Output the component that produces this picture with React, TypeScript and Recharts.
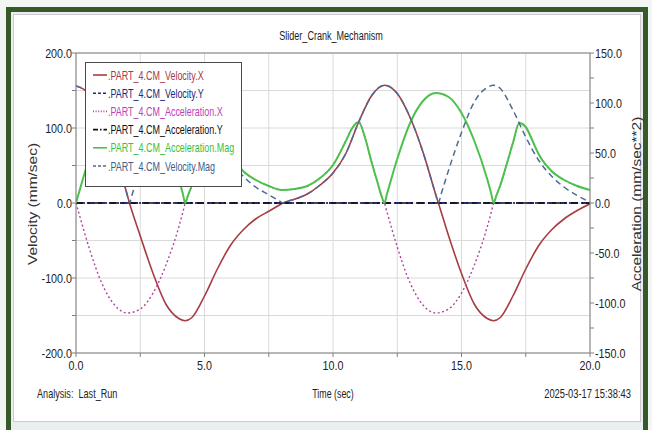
import React from 'react';
import { LineChart, Line, XAxis, YAxis, CartesianGrid, Legend, ReferenceLine } from 'recharts';

const FONT = "'Liberation Sans', Arial, sans-serif";

// ---- data ----
const seriesNames = [
  '.PART_4.CM_Velocity.X',
  '.PART_4.CM_Velocity.Y',
  '.PART_4.CM_Acceleration.X',
  '.PART_4.CM_Acceleration.Y',
  '.PART_4.CM_Acceleration.Mag',
  '.PART_4.CM_Velocity.Mag',
];

const velTimes = [0, 0.5, 1, 1.5, 2, 2.08, 2.18, 2.5, 3, 3.5, 4, 4.25, 4.5, 5, 5.5, 6, 6.5, 7, 7.5, 7.9, 8.05, 8.2, 8.5, 9, 9.5, 10, 10.5, 11, 11.5, 12, 12.5, 13, 13.5, 14, 14.1, 14.2, 14.5, 15, 15.5, 16, 16.25, 16.5, 17, 17.5, 18, 18.5, 19, 19.5, 20];
const velX = [156, 146, 114, 68, 10, 0, -11, -44, -94, -135, -154, -157, -153, -124, -88, -57, -36, -21, -11, -3, 0, 2, 5, 12, 24, 40, 66, 108, 143, 157, 146, 114, 68, 11, 0, -11, -44, -94, -135, -154, -157, -153, -124, -88, -57, -36, -21, -10, -1];
const velMag = [156, 146, 114, 68, 10, 0, 11, 44, 94, 135, 154, 157, 153, 124, 88, 57, 36, 21, 11, 3, 0, 2, 5, 12, 24, 40, 66, 108, 143, 157, 146, 114, 68, 11, 0, 11, 44, 94, 135, 154, 157, 153, 124, 88, 57, 36, 21, 10, 1];

const zeroTimes = [0, 20];
const velY = [0, 0];
const accY = [0, 0];

const accTimes = [0, 0.1, 0.5, 1, 1.5, 2, 2.5, 3, 3.5, 4, 4.15, 4.25, 4.35, 4.5, 4.75, 5, 5.25, 5.5, 5.75, 6, 6.5, 7, 7.5, 8, 8.5, 9, 9.5, 10, 10.5, 10.75, 11, 11.25, 11.5, 11.75, 11.9, 12, 12.1, 12.5, 13, 13.5, 14, 14.5, 15, 15.5, 16, 16.15, 16.25, 16.35, 16.5, 16.75, 17, 17.25, 17.5, 17.75, 18, 18.5, 19, 19.5, 20];
const accX = [0, -9, -44, -80, -102, -110, -106, -90, -62, -24, -10, 0, 7, 17, 38, 60, 80, 76, 63, 49, 32, 23, 17, 13, 14, 17, 25, 38, 62, 75, 81, 65, 41, 19, 6, 0, -9, -44, -80, -102, -110, -106, -90, -62, -24, -10, 0, 7, 17, 38, 60, 80, 76, 63, 49, 32, 23, 17, 13];
const accMag = [0, 9, 44, 80, 102, 110, 106, 90, 62, 24, 10, 0, 7, 17, 38, 60, 80, 76, 63, 49, 32, 23, 17, 13, 14, 17, 25, 38, 62, 75, 81, 65, 41, 19, 6, 0, 9, 44, 80, 102, 110, 106, 90, 62, 24, 10, 0, 7, 17, 38, 60, 80, 76, 63, 49, 32, 23, 17, 13];

const xTicks = [0, 2.5, 5, 7.5, 10, 12.5, 15, 17.5, 20];
const leftTicks = [-200, -150, -100, -50, 0, 50, 100, 150, 200];
const rightTicks = [-150, -125, -100, -75, -50, -25, 0, 25, 50, 75, 100, 125, 150];

const toData = (ts: number[], vs: number[]) => ts.map((t, i) => ({ t, v: vs[i] }));

const C = {
  velX: '#a83c42',
  velY: '#22287a',
  accX: '#b0459f',
  accY: '#111111',
  accMag: '#4cc24c',
  velMag: '#4d6b96',
};

const legendStyles = [
  { color: C.velX, text: '#a83c42', dash: undefined as string | undefined },
  { color: C.velY, text: '#22287a', dash: '3 2' },
  { color: C.accX, text: '#c040b8', dash: '1 1.6' },
  { color: C.accY, text: '#111111', dash: '5 2 1.5 2' },
  { color: C.accMag, text: '#3cc03c', dash: undefined },
  { color: C.velMag, text: '#3d5d88', dash: '3 2' },
];

const LeftTick = (props: any) => {
  const { x, y, payload } = props;
  if (payload.value % 100 !== 0) return null;
  return (
    <g transform={`translate(${x},${y}) scale(0.86,1)`}>
      <text x={0} y={0} dy={4.5} textAnchor="end" fontSize={12.5} fontFamily={FONT} fill="#222">
        {payload.value.toFixed(1)}
      </text>
    </g>
  );
};

const RightTick = (props: any) => {
  const { x, y, payload } = props;
  if (payload.value % 50 !== 0) return null;
  return (
    <g transform={`translate(${x},${y}) scale(0.86,1)`}>
      <text x={0} y={0} dy={4.5} textAnchor="start" fontSize={12.5} fontFamily={FONT} fill="#222">
        {payload.value.toFixed(1)}
      </text>
    </g>
  );
};

const BottomTick = (props: any) => {
  const { x, y, payload } = props;
  if (payload.value % 5 !== 0) return null;
  return (
    <g transform={`translate(${x},${y}) scale(0.86,1)`}>
      <text x={0} y={0} dy={11} textAnchor="middle" fontSize={12.5} fontFamily={FONT} fill="#222">
        {payload.value.toFixed(1)}
      </text>
    </g>
  );
};

const renderLegend = () => (
  <div
    style={{
      width: 157,
      height: 125,
      background: '#fff',
      border: '1px solid #4a4a4a',
      boxSizing: 'border-box',
    }}
  >
    <svg width={155} height={123} style={{ display: 'block' }}>
      {seriesNames.map((name, i) => {
        const cy = 12 + i * 18.2;
        const s = legendStyles[i];
        return (
          <g key={name}>
            <line x1={7} x2={21} y1={cy} y2={cy} stroke={s.color} strokeWidth={1.6} strokeDasharray={s.dash} />
            <g transform={`translate(22,${cy + 4.5}) scale(0.69,1)`}>
              <text x={0} y={0} fill={s.text} fontSize={13} fontFamily={FONT}>
                {name}
              </text>
            </g>
          </g>
        );
      })}
    </svg>
  </div>
);

export default function App() {
  return (
    <div style={{ position: 'absolute', left: 0, top: 0, width: 652, height: 430, background: '#f3f5f3', overflow: 'hidden' }}>
      {/* frame */}
      <div style={{ position: 'absolute', left: 6, top: 7, width: 642, height: 440, border: '5px solid #36592a', boxSizing: 'border-box', background: '#e9eef1' }} />
      <div style={{ position: 'absolute', left: 13, top: 14, width: 628, height: 408, background: '#ffffff', border: '1px solid #d2c9cf', boxSizing: 'border-box' }} />

      <div style={{ position: 'absolute', left: 0, top: 0 }}>
        <LineChart width={652} height={430} margin={{ top: 53, right: 12, bottom: 47, left: 16 }}>
          <CartesianGrid yAxisId="left" stroke="#dadada" strokeWidth={1} />
          <XAxis
            dataKey="t"
            type="number"
            domain={[0, 20]}
            ticks={xTicks}
            interval={0}
            height={30}
            tick={<BottomTick />}
            tickSize={4}
            tickMargin={2}
            stroke="#808080"
            allowDataOverflow
          />
          <YAxis
            yAxisId="left"
            type="number"
            domain={[-200, 200]}
            ticks={leftTicks}
            interval={0}
            width={60}
            tick={<LeftTick />}
            tickSize={4}
            tickMargin={0}
            stroke="#808080"
            allowDataOverflow
          />
          <YAxis
            yAxisId="right"
            orientation="right"
            type="number"
            domain={[-150, 150]}
            ticks={rightTicks}
            interval={0}
            width={50}
            tick={<RightTick />}
            tickSize={4}
            tickMargin={1}
            stroke="#808080"
            allowDataOverflow
          />
          <ReferenceLine yAxisId="left" y={200} stroke="#808080" />
          <Line yAxisId="left" data={toData(velTimes, velX)} dataKey="v" name={seriesNames[0]} type="monotone" stroke={C.velX} strokeWidth={1.6} dot={false} activeDot={false} isAnimationActive={false} />
          <Line yAxisId="left" data={toData(zeroTimes, velY)} dataKey="v" name={seriesNames[1]} type="linear" stroke={C.velY} strokeWidth={2} strokeDasharray="7 4" dot={false} activeDot={false} isAnimationActive={false} />
          <Line yAxisId="right" data={toData(accTimes, accX)} dataKey="v" name={seriesNames[2]} type="monotone" stroke={C.accX} strokeWidth={1.4} strokeDasharray="2 2.5" dot={false} activeDot={false} isAnimationActive={false} />
          <Line yAxisId="right" data={toData(zeroTimes, accY)} dataKey="v" name={seriesNames[3]} type="linear" stroke={C.accY} strokeWidth={1.6} strokeDasharray="9 3 2 3" dot={false} activeDot={false} isAnimationActive={false} />
          <Line yAxisId="right" data={toData(accTimes, accMag)} dataKey="v" name={seriesNames[4]} type="monotone" stroke={C.accMag} strokeWidth={2} dot={false} activeDot={false} isAnimationActive={false} />
          <Line yAxisId="left" data={toData(velTimes, velMag)} dataKey="v" name={seriesNames[5]} type="monotone" stroke={C.velMag} strokeWidth={1.5} strokeDasharray="6 4" dot={false} activeDot={false} isAnimationActive={false} />
          <Legend
            layout="vertical"
            align="center"
            verticalAlign="middle"
            wrapperStyle={{ left: 85, top: 62, width: 157, height: 125 }}
            content={renderLegend}
          />
        </LineChart>
      </div>

      {/* texts */}
      <svg width={652} height={430} style={{ position: 'absolute', left: 0, top: 0, pointerEvents: 'none' }}>
        <g transform="translate(331,40) scale(0.67,1)">
          <text x={0} y={0} textAnchor="middle" fontSize={13.5} fontFamily={FONT} fill="#222">
            Slider_Crank_Mechanism
          </text>
        </g>
        <g transform="translate(37,204) rotate(-90) scale(1,0.82)">
          <text x={0} y={0} textAnchor="middle" fontSize={15.5} fontFamily={FONT} fill="#333">
            Velocity (mm/sec)
          </text>
        </g>
        <g transform="translate(641,204) rotate(-90) scale(1,0.82)">
          <text x={0} y={0} textAnchor="middle" fontSize={15.5} fontFamily={FONT} fill="#333">
            Acceleration (mm/sec**2)
          </text>
        </g>
        <g transform="translate(37,398) scale(0.7,1)">
          <text x={0} y={0} fontSize={13} fontFamily={FONT} fill="#222" style={{ whiteSpace: 'pre' }}>
            {'Analysis:  Last_Run'}
          </text>
        </g>
        <g transform="translate(333,398) scale(0.68,1)">
          <text x={0} y={0} textAnchor="middle" fontSize={13} fontFamily={FONT} fill="#222">
            Time (sec)
          </text>
        </g>
        <g transform="translate(631,398) scale(0.72,1)">
          <text x={0} y={0} textAnchor="end" fontSize={13} fontFamily={FONT} fill="#222">
            2025-03-17 15:38:43
          </text>
        </g>
      </svg>
    </div>
  );
}
